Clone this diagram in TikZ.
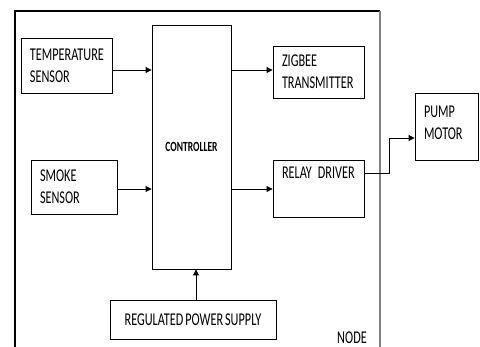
\documentclass[tikz,border=0pt]{standalone}
\usepackage{fontspec}
\setmainfont{Carlito}[FakeStretch=0.68,WordSpace=0.7]
\usepackage{tikz}
\usetikzlibrary{arrows.meta}
\tikzset{blk/.style={draw,line width=0.9pt,align=left,inner xsep=9pt,font=\fontsize{18}{22}\selectfont},
  arr/.style={line width=0.9pt,-{Triangle[length=6pt,width=6pt]}}}

\begin{document}
\begin{tikzpicture}[x=1pt,y=-1pt]
\useasboundingbox (0,0) rectangle (480,347);
\draw[line width=1.2pt] (15,347) -- (15,11) -- (380,11); \draw[line width=1.8pt,gray] (380,11) -- (380,347);
\node[blk,minimum width=91,minimum height=55,text width=73] (temp) at (66.5,65.5) {TEMPERATURE\\SENSOR};
\node[blk,minimum width=86,minimum height=54,text width=68] (smoke) at (74,187) {SMOKE\\SENSOR};
\node[blk,minimum width=79,minimum height=244,align=center,font=\fontsize{14}{16}\selectfont\bfseries] (ctrl) at (191.5,147) {CONTROLLER};
\node[blk,minimum width=91,minimum height=52,text width=73] (zig) at (318.5,72) {ZIGBEE\\TRANSMITTER};
\node[blk,minimum width=91,minimum height=57,text width=73,text depth=32pt] (relay) at (318.5,188.5) {RELAY DRIVER};
\node[blk,minimum width=63,minimum height=67,text width=45,text depth=30pt] (pump) at (446.5,126.5) {PUMP\\MOTOR};
\node[blk,minimum width=166,minimum height=39,align=center] (psu) at (193,319.5) {REGULATED POWER SUPPLY};
\node[font=\fontsize{18}{22}\selectfont] (nd) at (352,338) {NODE};
\draw[arr] (temp.east |- 0,70) -- (ctrl.west |- 0,70); \draw[arr] (smoke.east |- 0,189) -- (ctrl.west |- 0,189);
\draw[arr] (ctrl.east |- 0,70) -- (zig.west |- 0,70); \draw[arr] (ctrl.east |- 0,189) -- (relay.west |- 0,189);
\draw[arr] (relay.east |- 0,173) -- (389,173) -- (389,138) -- (pump.west |- 0,138);
\draw[arr] (psu.north -| 196,0) -- (ctrl.south -| 196,0);
\end{tikzpicture}
\end{document}
